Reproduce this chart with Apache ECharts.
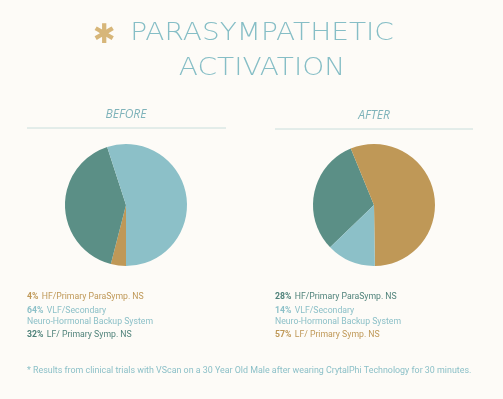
<!DOCTYPE html>
<html>
<head>
<meta charset="utf-8">
<script src="https://cdn.jsdelivr.net/npm/echarts@6/dist/echarts.min.js"></script>
<style>
    html, body { margin: 0; padding: 0; background: #fdfbf7; }
    #activationChart { width: 503px; height: 399px; }
</style>
</head>
<body>
<div id="activationChart"></div>
<script>
    // slice order is HF, LF, VLF (clockwise)
    const sliceNames = ['HF', 'LF', 'VLF']
    const beforeValues = [4, 41, 55]
    const afterValues = [31, 56, 13]
    const beforeColors = ['#bf9857', '#5b8f86', '#8cc0c8']
    const afterColors = ['#5b8f86', '#bf9857', '#8cc0c8']

    // legend lines: [percent, text, color]
    const beforeLegend = [
        ['4%', 'HF/Primary ParaSymp. NS', '#bf9857'],
        ['64%', 'VLF/Secondary\nNeuro-Hormonal Backup System', '#8cc0c8'],
        ['32%', 'LF/ Primary Symp. NS', '#4f827a']
    ]
    const afterLegend = [
        ['28%', 'HF/Primary ParaSymp. NS', '#4f827a'],
        ['14%', 'VLF/Secondary\nNeuro-Hormonal Backup System', '#8cc0c8'],
        ['57%', 'LF/ Primary Symp. NS', '#bf9857']
    ]

    const myChart = echarts.init(document.getElementById('activationChart'))

    function pieSeries (values, colors, cx, startAngle) {
        return {
            type: 'pie',
            center: [cx, 205],
            radius: 61,
            startAngle: startAngle,
            clockwise: true,
            silent: true,
            label: { show: false },
            labelLine: { show: false },
            itemStyle: { borderWidth: 0 },
            data: values.map((v, i) => ({
                name: sliceNames[i],
                value: v,
                itemStyle: { color: colors[i] }
            }))
        }
    }

    function legendBlock (lines, x) {
        const ys = [296, 310, 334]
        return lines.map((l, i) => ({
            type: 'text',
            left: x,
            top: ys[i] - 5,
            style: {
                text: '{p|' + l[0] + '} ' + l[1].split('\n').map(s => '{t|' + s + '}').join('\n'),
                fill: l[2],
                rich: {
                    p: { fontFamily: 'Roboto', fontSize: 8.7, fontWeight: 'bold', fill: l[2], lineHeight: 9.5 },
                    t: { fontFamily: 'Roboto', fontSize: 8.7, fill: l[2], lineHeight: 9.5 }
                }
            }
        }))
    }

    // title lines are stretched a little to the wide display face
    function titleLine (text, y) {
        return {
            type: 'text', x: 262, y: y,
            scaleX: 1.12,
            style: {
                text: text, fill: '#86bec6',
                font: '300 25px DejaVu Sans', textAlign: 'center', textVerticalAlign: 'bottom'
            }
        }
    }

    let option = {
        backgroundColor: '#fdfbf7',
        animation: false,
        graphic: [
            {
                type: 'text', left: 93, top: 22,
                style: { text: '✱', fill: '#d7b679', font: 'bold 27px DejaVu Sans' }
            },
            titleLine('PARASYMPATHETIC', 46),
            titleLine('ACTIVATION', 81),
            {
                type: 'text', x: 126, y: 115,
                style: {
                    text: 'BEFORE', fill: '#7fb3ba',
                    font: 'italic 12px Open Sans', textAlign: 'center', textVerticalAlign: 'middle'
                }
            },
            {
                type: 'text', x: 374, y: 116,
                style: {
                    text: 'AFTER', fill: '#7fb3ba',
                    font: 'italic 12px Open Sans', textAlign: 'center', textVerticalAlign: 'middle'
                }
            },
            {
                type: 'line',
                shape: { x1: 27, y1: 128, x2: 226, y2: 128 },
                style: { stroke: '#c9dedc', lineWidth: 1 }
            },
            {
                type: 'line',
                shape: { x1: 275, y1: 129, x2: 473, y2: 129 },
                style: { stroke: '#c9dedc', lineWidth: 1 }
            },
            ...legendBlock(beforeLegend, 27),
            ...legendBlock(afterLegend, 275),
            {
                type: 'text', left: 27, top: 366,
                style: {
                    text: '* Results from clinical trials with VScan on a 30 Year Old Male after wearing CrytalPhi Technology for 30 minutes.',
                    fill: '#8cc0c8', font: '8.9px Roboto'
                }
            }
        ],
        series: [
            pieSeries(beforeValues, beforeColors, 126, -90),
            pieSeries(afterValues, afterColors, 374, -136)
        ]
    }
    myChart.setOption(option)
</script>
</body>
</html>
